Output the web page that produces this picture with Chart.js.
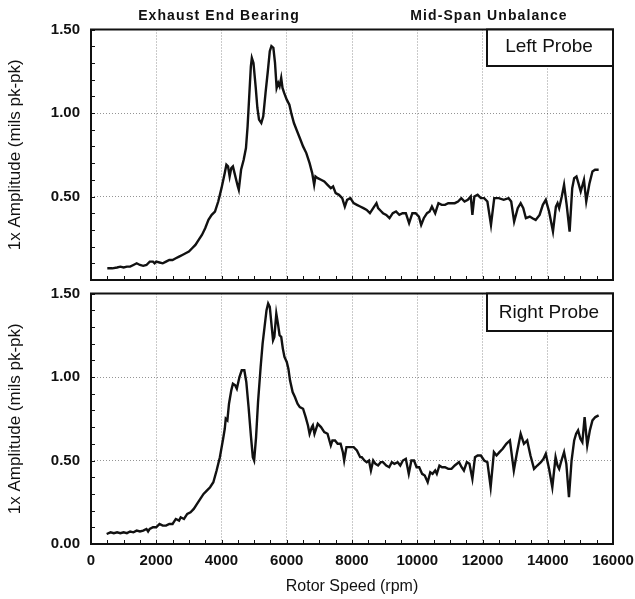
<!DOCTYPE html>
<html><head><meta charset="utf-8">
<script src="https://cdn.jsdelivr.net/npm/chart.js@4.4.1/dist/chart.umd.min.js"></script>
<style>
html,body{margin:0;padding:0;background:#fff;width:635px;height:599px;overflow:hidden;position:relative}
canvas{position:absolute;left:0}
</style></head>
<body>
<canvas id="cTop" width="635" height="290" style="top:0px"></canvas>
<canvas id="cBot" width="635" height="314" style="top:285px"></canvas>
<script>
// ---- data ----
const rpmLeft = [500,650,800,900,1000,1100,1200,1300,1400,1500,1600,1700,1800,1900,1950,2000,2100,2200,2300,2400,2500,2600,2700,2800,2900,3000,3100,3200,3300,3400,3500,3600,3700,3800,3900,4000,4100,4150,4200,4250,4300,4350,4400,4500,4530,4600,4680,4750,4800,4850,4900,4930,4980,5050,5100,5150,5220,5280,5350,5420,5480,5530,5590,5640,5690,5740,5780,5830,5870,5920,6000,6080,6150,6220,6300,6400,6500,6600,6700,6780,6840,6880,6950,7050,7150,7250,7350,7420,7500,7600,7700,7780,7850,7950,8050,8150,8250,8350,8450,8550,8650,8750,8800,8900,8950,9050,9150,9250,9350,9450,9550,9650,9750,9850,9950,10050,10120,10200,10300,10380,10450,10550,10650,10750,10850,10950,11050,11150,11250,11350,11450,11550,11640,11690,11750,11850,11950,12050,12150,12260,12360,12500,12650,12800,12880,12970,13080,13170,13250,13330,13450,13530,13630,13750,13850,13940,14040,14160,14250,14300,14350,14430,14500,14580,14670,14750,14810,14880,14940,15010,15110,15180,15280,15370,15450,15560];
const ampLeft = [0.07,0.07,0.075,0.08,0.075,0.08,0.08,0.09,0.10,0.09,0.085,0.09,0.11,0.11,0.10,0.11,0.105,0.10,0.11,0.12,0.12,0.13,0.14,0.15,0.16,0.17,0.19,0.21,0.24,0.27,0.31,0.36,0.39,0.41,0.47,0.55,0.64,0.69,0.68,0.62,0.67,0.68,0.64,0.56,0.54,0.66,0.72,0.79,0.92,1.10,1.28,1.33,1.30,1.15,1.03,0.96,0.94,0.98,1.12,1.25,1.37,1.40,1.39,1.30,1.15,1.18,1.16,1.21,1.15,1.12,1.08,1.05,0.99,0.94,0.90,0.85,0.80,0.76,0.70,0.64,0.57,0.62,0.61,0.60,0.59,0.57,0.55,0.56,0.52,0.51,0.49,0.44,0.48,0.49,0.46,0.45,0.44,0.43,0.42,0.40,0.43,0.46,0.43,0.41,0.40,0.39,0.37,0.40,0.41,0.39,0.40,0.40,0.34,0.40,0.40,0.38,0.33,0.37,0.40,0.41,0.44,0.40,0.46,0.45,0.45,0.46,0.46,0.46,0.47,0.49,0.47,0.48,0.50,0.39,0.50,0.51,0.49,0.49,0.47,0.33,0.49,0.49,0.48,0.49,0.47,0.35,0.43,0.46,0.43,0.37,0.38,0.37,0.36,0.39,0.45,0.48,0.41,0.29,0.44,0.46,0.43,0.50,0.57,0.45,0.29,0.55,0.61,0.62,0.58,0.53,0.60,0.47,0.58,0.65,0.66,0.66];

const rpmRight = [480,600,700,800,900,1000,1100,1200,1300,1400,1500,1600,1700,1750,1800,1900,2000,2100,2200,2300,2400,2500,2600,2700,2750,2850,2950,3050,3150,3250,3350,3450,3550,3650,3750,3850,3950,4050,4100,4130,4180,4230,4300,4350,4420,4470,4550,4620,4700,4760,4830,4900,4960,5000,5060,5120,5200,5260,5320,5380,5430,5480,5530,5580,5620,5680,5730,5780,5830,5880,5930,6000,6050,6100,6180,6250,6330,6400,6500,6580,6650,6700,6770,6800,6850,6950,7050,7150,7250,7350,7400,7480,7560,7650,7720,7760,7830,7950,8050,8150,8250,8300,8380,8450,8520,8580,8650,8720,8800,8880,8950,9050,9140,9220,9300,9400,9480,9560,9650,9740,9820,9900,9980,10060,10150,10230,10320,10400,10470,10550,10600,10680,10760,10850,10950,11050,11150,11280,11360,11430,11520,11600,11690,11770,11850,11950,12050,12150,12250,12350,12430,12520,12620,12730,12840,12960,13050,13170,13270,13370,13470,13580,13680,13790,13870,13940,14040,14140,14240,14300,14350,14420,14500,14570,14650,14730,14810,14870,14930,15000,15060,15130,15210,15290,15370,15460,15560];
const ampRight = [0.06,0.07,0.065,0.07,0.065,0.07,0.065,0.075,0.07,0.08,0.075,0.08,0.09,0.075,0.09,0.10,0.10,0.12,0.11,0.11,0.12,0.12,0.15,0.14,0.16,0.15,0.18,0.19,0.21,0.24,0.27,0.30,0.32,0.34,0.37,0.44,0.52,0.63,0.69,0.75,0.74,0.84,0.92,0.96,0.95,0.93,1.00,1.04,1.04,0.97,0.82,0.65,0.52,0.50,0.64,0.85,1.06,1.20,1.30,1.40,1.44,1.42,1.32,1.22,1.24,1.38,1.32,1.25,1.24,1.17,1.12,1.09,1.05,0.98,0.91,0.88,0.84,0.82,0.81,0.76,0.71,0.66,0.70,0.71,0.66,0.72,0.70,0.67,0.66,0.59,0.62,0.62,0.60,0.60,0.55,0.50,0.58,0.58,0.58,0.56,0.52,0.52,0.50,0.49,0.50,0.44,0.50,0.48,0.47,0.49,0.49,0.47,0.46,0.49,0.48,0.49,0.47,0.50,0.51,0.42,0.50,0.50,0.46,0.46,0.42,0.41,0.37,0.43,0.42,0.44,0.42,0.47,0.46,0.46,0.45,0.45,0.47,0.49,0.46,0.44,0.49,0.48,0.39,0.52,0.53,0.53,0.50,0.49,0.34,0.55,0.53,0.55,0.57,0.60,0.62,0.44,0.54,0.66,0.60,0.62,0.53,0.45,0.47,0.49,0.51,0.54,0.45,0.34,0.52,0.47,0.45,0.50,0.55,0.48,0.28,0.50,0.62,0.66,0.68,0.63,0.61,0.76,0.59,0.68,0.74,0.76,0.77];

const xTickValues = [0,2000,4000,6000,8000,10000,12000,14000,16000];
const yTickValues = [0.00,0.50,1.00,1.50];
const panelLabels = ['Left Probe','Right Probe'];
const headerLabels = ['Exhaust End Bearing','Mid-Span Unbalance'];
const xTitle = 'Rotor Speed (rpm)';
const yTitle = '1x Amplitude (mils pk-pk)';

// ---- helpers ----
const INK = '#111';
const GRID = 'rgba(0,0,0,0.42)';
function pts(xs, ys){ return xs.map((x,i)=>({x:x, y:ys[i]})); }

const framePlugin = {
  id:'frame',
  afterDraw(chart, args, opts){
    const ctx = chart.ctx, a = chart.chartArea;
    const xs = chart.scales.x, ys = chart.scales.y;
    ctx.save();
    ctx.strokeStyle = INK;
    // minor ticks (inner)
    ctx.lineWidth = 1;
    ctx.beginPath();
    for (let v = 0; v <= 16000; v += 500){
      const px = Math.round(xs.getPixelForValue(v)) + 0.5;
      ctx.moveTo(px, a.bottom); ctx.lineTo(px, a.bottom - 4);
    }
    for (let k = 0; k <= 15; k++){
      const py = Math.round(ys.getPixelForValue(k/10)) + 0.5;
      ctx.moveTo(a.left, py); ctx.lineTo(a.left + 4, py);
    }
    ctx.stroke();
    // frame
    ctx.lineWidth = 2;
    ctx.strokeRect(a.left, a.top, a.right - a.left, a.bottom - a.top);
    // probe label box
    if (opts.label){
      const w = 126, h = opts.boxH;
      const bx = a.right - w, by = a.top;
      ctx.fillStyle = '#fff';
      ctx.fillRect(bx, by, w, h);
      ctx.lineWidth = 2;
      ctx.strokeRect(bx, by, w, h);
      ctx.fillStyle = INK;
      ctx.font = '19px "Liberation Sans", Arial, sans-serif';
      ctx.textAlign = 'center';
      ctx.textBaseline = 'alphabetic';
      ctx.fillText(opts.label, bx + w/2 - 1, by + opts.baseline);
    }
    // header labels
    if (opts.headers){
      ctx.fillStyle = INK;
      ctx.font = 'bold 14px "Liberation Sans", Arial, sans-serif';
      ctx.textAlign = 'center';
      ctx.textBaseline = 'alphabetic';
      try { ctx.letterSpacing = '1.1px'; } catch(e){}
      const centers = [219, 489];
      opts.headers.forEach((t,i)=> ctx.fillText(t, centers[i], 20));
      try { ctx.letterSpacing = '0px'; } catch(e){}
    }
    ctx.restore();
  }
};

function makeConfig(xs, ys, isTop){
  return {
    type:'scatter',
    data:{ datasets:[{
      data: pts(xs, ys),
      showLine:true,
      borderColor: INK,
      borderWidth: 2.4,
      pointRadius: 0,
      tension: 0,
      fill:false
    }]},
    plugins:[framePlugin],
    options:{
      responsive:false,
      animation:false,
      events:[],
      layout:{ padding:{ left:0, right:22, top: isTop ? 29.5 : 8.5, bottom:0 } },
      plugins:{
        legend:{display:false},
        tooltip:{enabled:false},
        frame:{
          label: isTop ? panelLabels[0] : panelLabels[1],
          boxH: isTop ? 36.5 : 37.5,
          baseline: isTop ? 22 : 24,
          headers: isTop ? headerLabels : null
        }
      },
      scales:{
        x:{
          type:'linear', min:0, max:16000,
          afterBuildTicks(s){ s.ticks = xTickValues.map(v=>({value:v})); },
          ticks:{
            display: !isTop,
            color: INK,
            padding: 8,
            maxRotation:0,
            autoSkip:false,
            font:{ family:'"Liberation Sans", Arial, sans-serif', size:15, weight:'bold' },
            callback:(v)=> String(v)
          },
          grid:{ drawTicks:false, color:GRID, lineWidth:1 },
          border:{ display:false, dash:[1,2] },
          title:{
            display: !isTop,
            text: xTitle,
            color: INK,
            font:{ family:'"Liberation Sans", Arial, sans-serif', size:16 },
            padding:{ top:0, bottom:3 }
          },
          afterFit(s){ s.height = isTop ? 10 : 55; s.paddingLeft = 0; s.paddingRight = 0; }
        },
        y:{
          type:'linear', min:0, max:1.5,
          afterBuildTicks(s){ s.ticks = yTickValues.map(v=>({value:v})); },
          ticks:{
            color: INK,
            padding: 11,
            font:{ family:'"Liberation Sans", Arial, sans-serif', size:15, weight:'bold' },
            callback:(v)=> (isTop && v === 0) ? '' : Number(v).toFixed(2)
          },
          grid:{ drawTicks:false, color:GRID, lineWidth:1 },
          border:{ display:false, dash:[1,2] },
          title:{
            display:true,
            text: yTitle,
            color: INK,
            font:{ family:'"Liberation Sans", Arial, sans-serif', size:17 },
            padding:{ top:5, bottom:0 }
          },
          afterFit(s){ s.width = 91; s.paddingTop = 0; s.paddingBottom = 0; }
        }
      }
    }
  };
}

new Chart(document.getElementById('cTop'), makeConfig(rpmLeft, ampLeft, true));
new Chart(document.getElementById('cBot'), makeConfig(rpmRight, ampRight, false));
</script>
</body></html>
